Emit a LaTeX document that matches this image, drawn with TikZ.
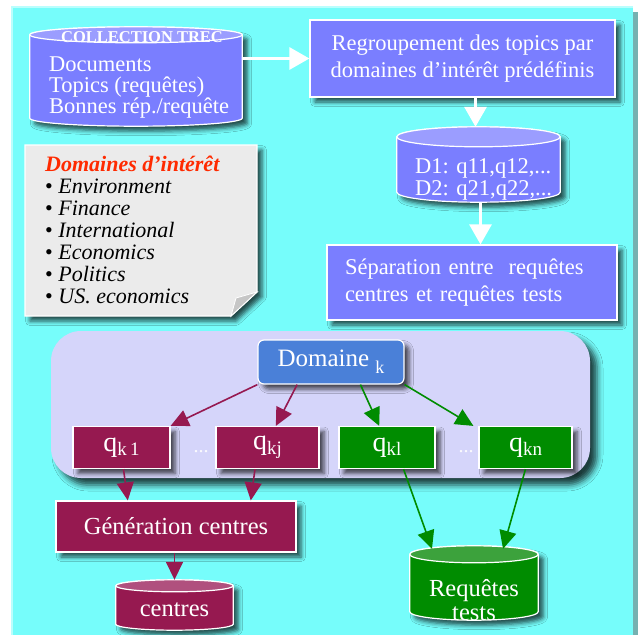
\documentclass[tikz,border=0pt]{standalone}
\usepackage{fontspec}
\setmainfont{Liberation Serif}
\usetikzlibrary{arrows.meta,shadows.blur,calc,positioning}

\definecolor{fondcyan}{HTML}{76FDFB}
\definecolor{bleuboite}{HTML}{7A7EFF}
\definecolor{bleuhaut}{HTML}{9B9DFF}
\definecolor{grisnote}{HTML}{EBEBEB}
\definecolor{rougetitre}{HTML}{FF2A00}
\definecolor{lavande}{HTML}{D5D5FA}
\definecolor{bleudomaine}{HTML}{4A80D8}
\definecolor{bordeaux}{HTML}{961950}
\definecolor{bordeauxhaut}{HTML}{B0507E}
\definecolor{vert}{HTML}{008C00}
\definecolor{verthaut}{HTML}{3CA23C}

\newcommand{\fs}[1]{\fontsize{#1}{#1}\selectfont}
\newcommand{\qind}[1]{q\raisebox{-0.35ex}{\fs{19}#1}}
% cylindre dessine autour d'un noeud : nom, corps, dessus, rayon
\newcommand{\cylindre}[4]{%
  \filldraw[fill=#2,draw=white,line width=1.2pt,ombre]
    let \p1=(#1.north west),\p2=(#1.south east),\n1={(\x2-\x1)/2} in
    (\x1,\y1-#4) -- (\x1,\y2+#4)
    arc[start angle=180,end angle=360,x radius=\n1,y radius=#4]
    -- (\x2,\y1-#4)
    arc[start angle=0,end angle=180,x radius=\n1,y radius=#4] -- cycle;
  \filldraw[fill=#3,draw=white,line width=1.2pt]
    let \p1=(#1.north),\p2=(#1.north east),\n1={\x2-\x1} in
    (\x1,\y1-#4) ellipse[x radius=\n1,y radius=#4];
}

\begin{document}
\begin{tikzpicture}[x=1pt,y=-1pt,
    ombre/.style={blur shadow={shadow xshift=5pt,shadow yshift=-5pt,shadow blur radius=4.5pt,shadow opacity=70}},
    zone/.style={rectangle,inner sep=0pt},
    boite/.style={rectangle,draw=white,line width=1.2pt,text=white,inner sep=0pt,ombre},
    etape/.style={boite,fill=bleuboite,font=\fontsize{22.5}{27}\selectfont},
    qbord/.style={boite,fill=bordeaux,minimum height=42pt,font=\fs{28}},
    qvert/.style={boite,fill=vert,minimum height=42pt,font=\fs{28}},
    blanche/.style={draw=white,line width=3pt,-{Triangle[length=20pt,width=22pt]}},
    fbord/.style={draw=bordeaux,line width=1.6pt,-{Triangle[length=18pt,width=17pt]}},
    fvert/.style={draw=vert,line width=1.6pt,-{Triangle[length=18pt,width=17pt]}},
    blanc/.style={text=white,inner sep=0pt}]
  \useasboundingbox (0,0) rectangle (638,635);

  % fond
  \fill[fondcyan] (11,6) rectangle (633,635);
  \fill[fondcyan!60!black!75] (633,12) rectangle (638,635);
  \draw[white!50!fondcyan,line width=2pt] (12,635) -- (12,7) -- (633,7);

  % partie haute
  \node (trec) [zone,minimum width=212pt,minimum height=99pt] at (136,76.5) {};
  \cylindre{trec}{bleuboite}{bleuhaut}{8pt}
  \node (trectitre) [blanc,font=\bfseries\fs{16.5}] at (142,37) {COLLECTION TREC};
  \node (treclist) [blanc,anchor=west,align=left,font=\fontsize{22.5}{21}\selectfont] at (49,88)
    {Documents\\Topics (requêtes)\\Bonnes rép./requête};

  \node (regroup) [etape,minimum width=305pt,minimum height=77pt,align=center] at (462.5,58.5)
    {Regroupement des topics par\\domaines d’intérêt prédéfinis};

  \node (dcyl) [zone,minimum width=163pt,minimum height=75pt] at (478.5,164.5) {};
  \cylindre{dcyl}{bleuboite}{bleuhaut}{10pt}
  \node (dlist) [blanc,anchor=west,align=left,font=\fontsize{22.5}{22}\selectfont] at (415,179)
    {D1: q11,q12,...\\D2: q21,q22,...};

  \node (separation) [etape,minimum width=290pt,minimum height=75pt,text width=254pt,align=left] at (472,282.5)
    {Séparation entre~ requêtes\\centres et requêtes tests};

  \draw[blanche] (trec.east |- regroup.west) -- (regroup.west);
  \draw[blanche] ([xshift=-3pt]regroup.south -| dcyl.north) -- ([xshift=-3pt]dcyl.north);
  \draw[blanche] ([xshift=2pt]dcyl.south) -- ([xshift=2pt]dcyl.south |- separation.north);

  % note des domaines
  \filldraw[fill=grisnote,draw=white,line width=1.2pt,ombre]
    (25,145) -- (257,145) -- (257,292) -- (231,316) -- (25,316) -- cycle;
  \filldraw[fill=gray!45,draw=white,line width=0.8pt] (257,292) -- (236,298) -- (231,316) -- cycle;
  \node (domaines) [anchor=west,align=left,inner sep=0pt,font=\fontsize{22}{22}\selectfont] at (45,230)
    {\textcolor{rougetitre}{\bfseries\itshape Domaines d’intérêt}\\
     • \textit{Environment}\\ • \textit{Finance}\\ • \textit{International}\\
     • \textit{Economics}\\ • \textit{Politics}\\ • \textit{US. economics}};

  % cadre du domaine k
  \node (cadre) [rectangle,rounded corners=30pt,fill=lavande,
    blur shadow={shadow xshift=7pt,shadow yshift=-7pt,shadow blur radius=6pt,shadow opacity=75},
    minimum width=539pt,minimum height=147pt] at (320.5,404.5) {};
  \node (domaine) [boite,rounded corners=6pt,fill=bleudomaine,minimum width=146pt,minimum height=44pt,
    font=\fs{25}] at (331,362) {Domaine \raisebox{-0.6ex}{\fs{18}k}};

  \node (qk1) [qbord,minimum width=97pt] at (121.5,447.5) {\qind{k\,1}};
  \node (qkj) [qbord,minimum width=103pt] at (267.5,447.5) {\qind{kj}};
  \node (qkl) [qvert,minimum width=96pt] at (387,447.5) {\qind{kl}};
  \node (qkn) [qvert,minimum width=93pt] at (525.5,447.5) {\qind{kn}};
  \node (pts1) [blanc,text=white!90!lavande,font=\fs{20}] at (201,452) {...};
  \node (pts2) [blanc,text=white!90!lavande,font=\fs{20}] at (466,452) {...};

  \draw[fbord] (domaine.south west) -- (qk1.north east);
  \draw[fbord] ($(domaine.south west)!0.27!(domaine.south east)$) -- ($(qkj.north west)!0.58!(qkj.north east)$);
  \draw[fvert] ($(domaine.south west)!0.7!(domaine.south east)$) -- ($(qkl.north west)!0.42!(qkl.north east)$);
  \draw[fvert] (domaine.south east) -- ([xshift=-5pt]qkn.north west);

  % partie basse
  \node (gen) [boite,fill=bordeaux,minimum width=240pt,minimum height=51pt,font=\fs{24.5}] at (176,526.5)
    {Génération centres};
  \node (centres) [zone,minimum width=117pt,minimum height=50pt] at (174.5,605) {};
  \cylindre{centres}{bordeaux}{bordeauxhaut}{6pt}
  \node (centrestxt) [blanc,font=\fs{24.5}] at (174.5,610) {centres};
  \node (req) [zone,minimum width=128pt,minimum height=74pt] at (474,583) {};
  \cylindre{req}{vert}{verthaut}{8.5pt}
  \node (reqtxt) [blanc,align=center,font=\fontsize{24.5}{24}\selectfont] at (474,600) {Requêtes\\tests};

  \draw[fbord] ($(qk1.south west)!0.52!(qk1.south east)$) -- ($(gen.north west)!0.3!(gen.north east)$);
  \draw[fbord] ($(qkj.south west)!0.38!(qkj.south east)$) -- ($(gen.north west)!0.81!(gen.north east)$);
  \draw[fbord] (gen.south -| centres.north) -- (centres.north);
  \draw[fvert] ($(qkl.south west)!0.67!(qkl.south east)$) -- ([xshift=-42pt,yshift=-3pt]req.north);
  \draw[fvert] (qkn.south) -- ([xshift=29pt,yshift=-3pt]req.north);
\end{tikzpicture}
\end{document}
